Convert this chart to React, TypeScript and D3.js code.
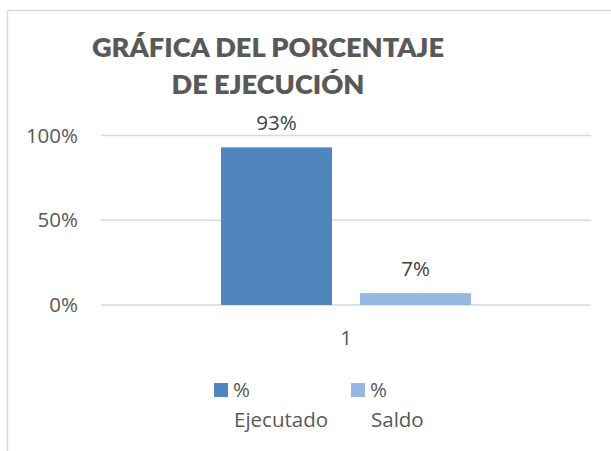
import React from "react";
import * as d3 from "d3";

const categories = ["1"];
const seriesNames = ["% Ejecutado", "% Saldo"];
const seriesValues = [0.93, 0.07];
const dataLabels = ["93%", "7%"];
const yTicks = [0, 0.5, 1];
const titleLines = ["GRÁFICA DEL PORCENTAJE", "DE EJECUCIÓN"];
const legendLines = [["%", "Ejecutado"], ["%", "Saldo"]];
const colors = ["#4F86BD", "#95B8E0"];

export default function App() {
  const W = 611, H = 451;
  const plotL = 101, plotR = 591, plotT = 135, plotB = 305;
  const y = d3.scaleLinear().domain([0, 1]).range([plotB, plotT + 0.5]);
  const x0 = d3.scaleBand().domain(categories).range([plotL, plotR]).paddingInner(0).paddingOuter(0.48);
  const x1 = d3.scaleBand().domain(seriesNames).range([0, x0.bandwidth()]).paddingInner(0.2014).paddingOuter(0);
  const fmt = d3.format(".0%");
  const font = "'Open Sans', 'Liberation Sans', sans-serif";
  const fs = 20.5;
  const legendX = [214, 351];

  return (
    <svg width={W} height={H} style={{ position: "absolute", left: 0, top: 0, background: "#fff" }}>
      <line x1={7.5} y1={10.5} x2={W} y2={10.5} stroke="#d9d9d9" strokeWidth={1.5} />
      <line x1={7.5} y1={10.5} x2={7.5} y2={H} stroke="#d9d9d9" strokeWidth={1.5} />
      {titleLines.map((t, i) => (
        <text key={t} x={268} y={57 + i * 37} textAnchor="middle" fontFamily="Lato, 'Open Sans', sans-serif"
          fontWeight={800} fontSize={27.2} fill="#595959">{t}</text>
      ))}
      {yTicks.map(t => (
        <g key={t}>
          <line x1={plotL} x2={plotR} y1={y(t)} y2={y(t)} stroke="#d9d9d9" strokeWidth={1.5} />
          <text x={78} y={y(t) + 7} textAnchor="end" fontFamily={font} fontSize={fs} fill="#595959">{fmt(t)}</text>
        </g>
      ))}
      {categories.map(c => (
        <g key={c}>
          {seriesNames.map((s, i) => {
            const bx = (x0(c) as number) + (x1(s) as number);
            const bw = x1.bandwidth();
            return (
              <g key={s}>
                <rect x={bx} y={y(seriesValues[i])} width={bw} height={plotB - y(seriesValues[i])} fill={colors[i]} />
                <text x={bx + bw / 2} y={y(seriesValues[i]) - 17} textAnchor="middle" fontFamily={font} fontSize={fs} fill="#404040">{dataLabels[i]}</text>
              </g>
            );
          })}
          <text x={(x0(c) as number) + x0.bandwidth() / 2} y={345} textAnchor="middle" fontFamily={font} fontSize={fs} fill="#595959">{c}</text>
        </g>
      ))}
      {seriesNames.map((s, i) => (
        <g key={s}>
          <rect x={legendX[i]} y={383} width={14} height={14} fill={colors[i]} />
          <text x={legendX[i] + 19} y={397} fontFamily={font} fontSize={fs} fill="#595959">{legendLines[i][0]}</text>
          <text x={legendX[i] + 20} y={427} fontFamily={font} fontSize={fs} fill="#595959">{legendLines[i][1]}</text>
        </g>
      ))}
    </svg>
  );
}
